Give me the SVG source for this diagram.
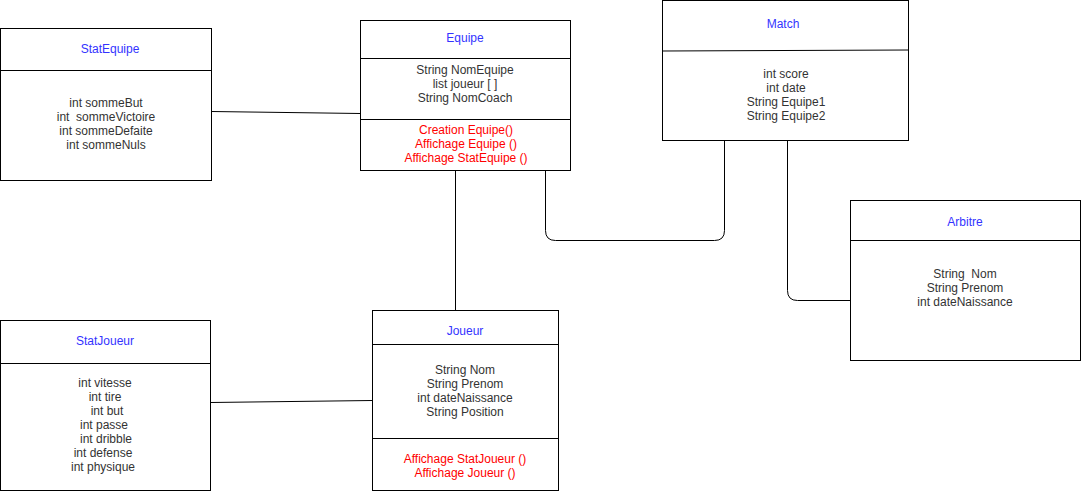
<svg xmlns="http://www.w3.org/2000/svg" width="1082" height="491" viewBox="0 0 1082 491">
<style>
.box{fill:#fff;stroke:#000;stroke-width:1}
.div{stroke:#000;stroke-width:1;fill:none}
.conn{stroke:#000;stroke-width:1;fill:none}
text{font-family:"Liberation Sans",Arial,sans-serif;font-size:12px;text-anchor:middle}
.t{fill:#3333ff}
.a{fill:#333}
.m{fill:#ff0000}
</style>
<rect width="1082" height="491" fill="#fff"/>
<g id="connectors">
<path class="conn" d="M211.5 111.5 L360.5 113.5"/>
<path class="conn" d="M455.5 170.5 V310.5"/>
<path class="conn" d="M210.5 402.5 L372.5 400.5"/>
<path class="conn" d="M545.5 170.5 V230.5 Q545.5 240.5 555.5 240.5 H714.5 Q724.5 240.5 724.5 230.5 V140.5"/>
<path class="conn" d="M787.5 140.5 V290.5 Q787.5 300.5 797.5 300.5 H850.5"/>
</g>
<g id="StatEquipe">
<rect class="box" x="0.5" y="28.5" width="211" height="152"/>
<line class="div" x1="0.5" y1="70.5" x2="211.5" y2="70.5"/>
<text class="t" x="110" y="53">StatEquipe</text>
<text class="a" x="106" y="107">int sommeBut</text>
<text class="a" x="106" y="121" xml:space="preserve">int  sommeVictoire</text>
<text class="a" x="106" y="135">int sommeDefaite</text>
<text class="a" x="106" y="149">int sommeNuls</text>
</g>
<g id="Equipe">
<rect class="box" x="360.5" y="20.5" width="210" height="150"/>
<line class="div" x1="360.5" y1="58.5" x2="570.5" y2="58.5"/>
<line class="div" x1="360.5" y1="119.5" x2="570.5" y2="119.5"/>
<text class="t" x="465" y="42">Equipe</text>
<text class="a" x="465" y="74">String NomEquipe</text>
<text class="a" x="465" y="88">list joueur [ ]</text>
<text class="a" x="465" y="102">String NomCoach</text>
<text class="m" x="466" y="134">Creation Equipe()</text>
<text class="m" x="466" y="148">Affichage Equipe ()</text>
<text class="m" x="466" y="162">Affichage StatEquipe ()</text>
</g>
<g id="Match">
<rect class="box" x="662.5" y="0.5" width="246" height="140"/>
<line class="div" x1="662.5" y1="51" x2="908.5" y2="50"/>
<text class="t" x="783" y="28">Match</text>
<text class="a" x="786" y="78">int score</text>
<text class="a" x="786" y="92">int date</text>
<text class="a" x="786" y="106">String Equipe1</text>
<text class="a" x="786" y="120">String Equipe2</text>
</g>
<g id="Arbitre">
<rect class="box" x="850.5" y="200.5" width="230" height="160"/>
<line class="div" x1="850.5" y1="240.5" x2="1080.5" y2="240.5"/>
<text class="t" x="965" y="226">Arbitre</text>
<text class="a" x="965" y="278" xml:space="preserve">String  Nom</text>
<text class="a" x="965" y="292">String Prenom</text>
<text class="a" x="965" y="306">int dateNaissance</text>
</g>
<g id="StatJoueur">
<rect class="box" x="0.5" y="320.5" width="210" height="170"/>
<line class="div" x1="0.5" y1="363.5" x2="210.5" y2="363.5"/>
<text class="t" x="105" y="345">StatJoueur</text>
<text class="a" x="105" y="387">int vitesse</text>
<text class="a" x="105" y="401">int tire</text>
<text class="a" x="107" y="415">int but</text>
<text class="a" x="104" y="429">int passe</text>
<text class="a" x="106" y="443">int dribble</text>
<text class="a" x="103" y="457">int defense</text>
<text class="a" x="103" y="471">int physique</text>
</g>
<g id="Joueur">
<rect class="box" x="372.5" y="310.5" width="186" height="180"/>
<line class="div" x1="372.5" y1="344.5" x2="558.5" y2="344.5"/>
<line class="div" x1="372.5" y1="438.5" x2="558.5" y2="438.5"/>
<text class="t" x="465" y="335">Joueur</text>
<text class="a" x="465" y="374">String Nom</text>
<text class="a" x="465" y="388">String Prenom</text>
<text class="a" x="465" y="402">int dateNaissance</text>
<text class="a" x="465" y="416">String Position</text>
<text class="m" x="465" y="463">Affichage StatJoueur ()</text>
<text class="m" x="465" y="477">Affichage Joueur ()</text>
</g>
</svg>
